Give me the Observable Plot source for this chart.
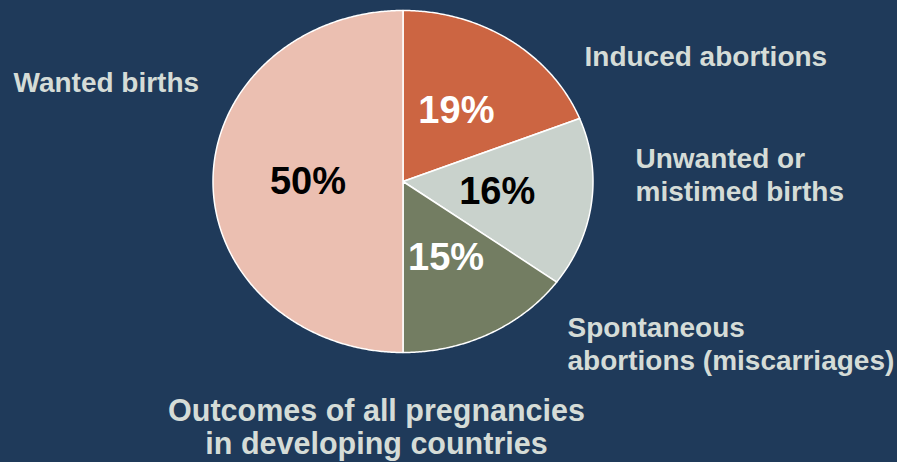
<!DOCTYPE html>
<html>
<head>
<meta charset="utf-8">
<script src="https://cdn.jsdelivr.net/npm/d3@7"></script>
<script src="https://cdn.jsdelivr.net/npm/@observablehq/plot@0.6"></script>
<style>
  html, body { margin: 0; padding: 0; background: #1f3a5a; }
  #chart { width: 897px; height: 462px; }
</style>
</head>
<body>
<div id="chart"></div>
<script>
// ---- data ----
const categories = ["Induced abortions", "Unwanted or mistimed births", "Spontaneous abortions (miscarriages)", "Wanted births"];
const values = [19, 16, 15, 50];
const labelLines = [["Induced abortions"], ["Unwanted or", "mistimed births"], ["Spontaneous", "abortions (miscarriages)"], ["Wanted births"]];
const titleLines = ["Outcomes of all pregnancies", "in developing countries"];

// ---- styles / layout ----
const sliceColors = ["#cc6542", "#c9d2cc", "#737d62", "#ebbfb1"];
const pctColors = ["#ffffff", "#000000", "#ffffff", "#000000"];
const bg = "#1f3a5a";
const textColor = "#d5dcd7";
const font = "'Liberation Sans', Arial, Helvetica, sans-serif";
const W = 897, H = 462;
const pieBox = {left: 212.5, right: 592.5, top: 10, bottom: 352};
// label anchors in pixels (left / top of text line box)
const labelPos = [
  {px: 584, py: 43, lh: 1.15},
  {px: 635, py: 145, lh: 1.15},
  {px: 567, py: 313, lh: 1.18},
  {px: 13, py: 69, lh: 1.15}
];
const labelSize = 28;
const titlePos = {px: 376, py: 396, lh: 1.11};
const titleSize = 30.5;
const pctSize = 38;

// ---- geometry derived from values ----
const xs = d3.scaleLinear([-1, 1], [pieBox.left, pieBox.right]);
const ys = d3.scaleLinear([-1, 1], [pieBox.bottom, pieBox.top]);
const total = d3.sum(values);
let acc = 0;
const slices = values.map((v, i) => {
  const a0 = acc / total * 2 * Math.PI; acc += v;
  const a1 = acc / total * 2 * Math.PI;
  const n = Math.max(2, Math.ceil((a1 - a0) / (Math.PI / 360)) + 1);
  const pts = [{x: 0, y: 0}];
  for (let k = 0; k < n; k++) {
    const a = a0 + (a1 - a0) * k / (n - 1);
    pts.push({x: Math.sin(a), y: Math.cos(a)});
  }
  const am = (a0 + a1) / 2;
  return {i, v, pts, mx: 0.5 * Math.sin(am), my: 0.5 * Math.cos(am)};
});

const marks = [];
slices.forEach(s => {
  marks.push(Plot.line(s.pts, {x: "x", y: "y", fill: sliceColors[s.i], stroke: "#ffffff", strokeWidth: 1.5, curve: "linear-closed"}));
});
marks.push(Plot.text(slices, {
  x: "mx", y: "my", text: d => d.v + "%", fill: (d) => pctColors[d.i],
  fontSize: pctSize, fontWeight: "bold", fontFamily: font, textAnchor: "middle", lineAnchor: "middle"
}));
labelLines.forEach((lines, i) => {
  const p = labelPos[i];
  marks.push(Plot.text([lines.join("\n")], {
    x: () => xs.invert(p.px), y: () => ys.invert(p.py), text: d => d,
    fill: textColor, fontSize: labelSize, fontWeight: "bold", fontFamily: font,
    textAnchor: "start", lineAnchor: "top", lineHeight: p.lh
  }));
});
marks.push(Plot.text([titleLines.join("\n")], {
  x: () => xs.invert(titlePos.px), y: () => ys.invert(titlePos.py), text: d => d,
  fill: textColor, fontSize: titleSize, fontWeight: "bold", fontFamily: font,
  textAnchor: "middle", lineAnchor: "top", lineHeight: titlePos.lh
}));

const chart = Plot.plot({
  width: W, height: H,
  margin: 0,
  x: {domain: [-1, 1], range: [pieBox.left, pieBox.right], axis: null},
  y: {domain: [-1, 1], range: [pieBox.bottom, pieBox.top], axis: null},
  color: {type: "identity"},
  style: {background: bg, fontFamily: font, overflow: "visible"},
  marks
});
document.getElementById("chart").append(chart);
</script>
</body>
</html>
